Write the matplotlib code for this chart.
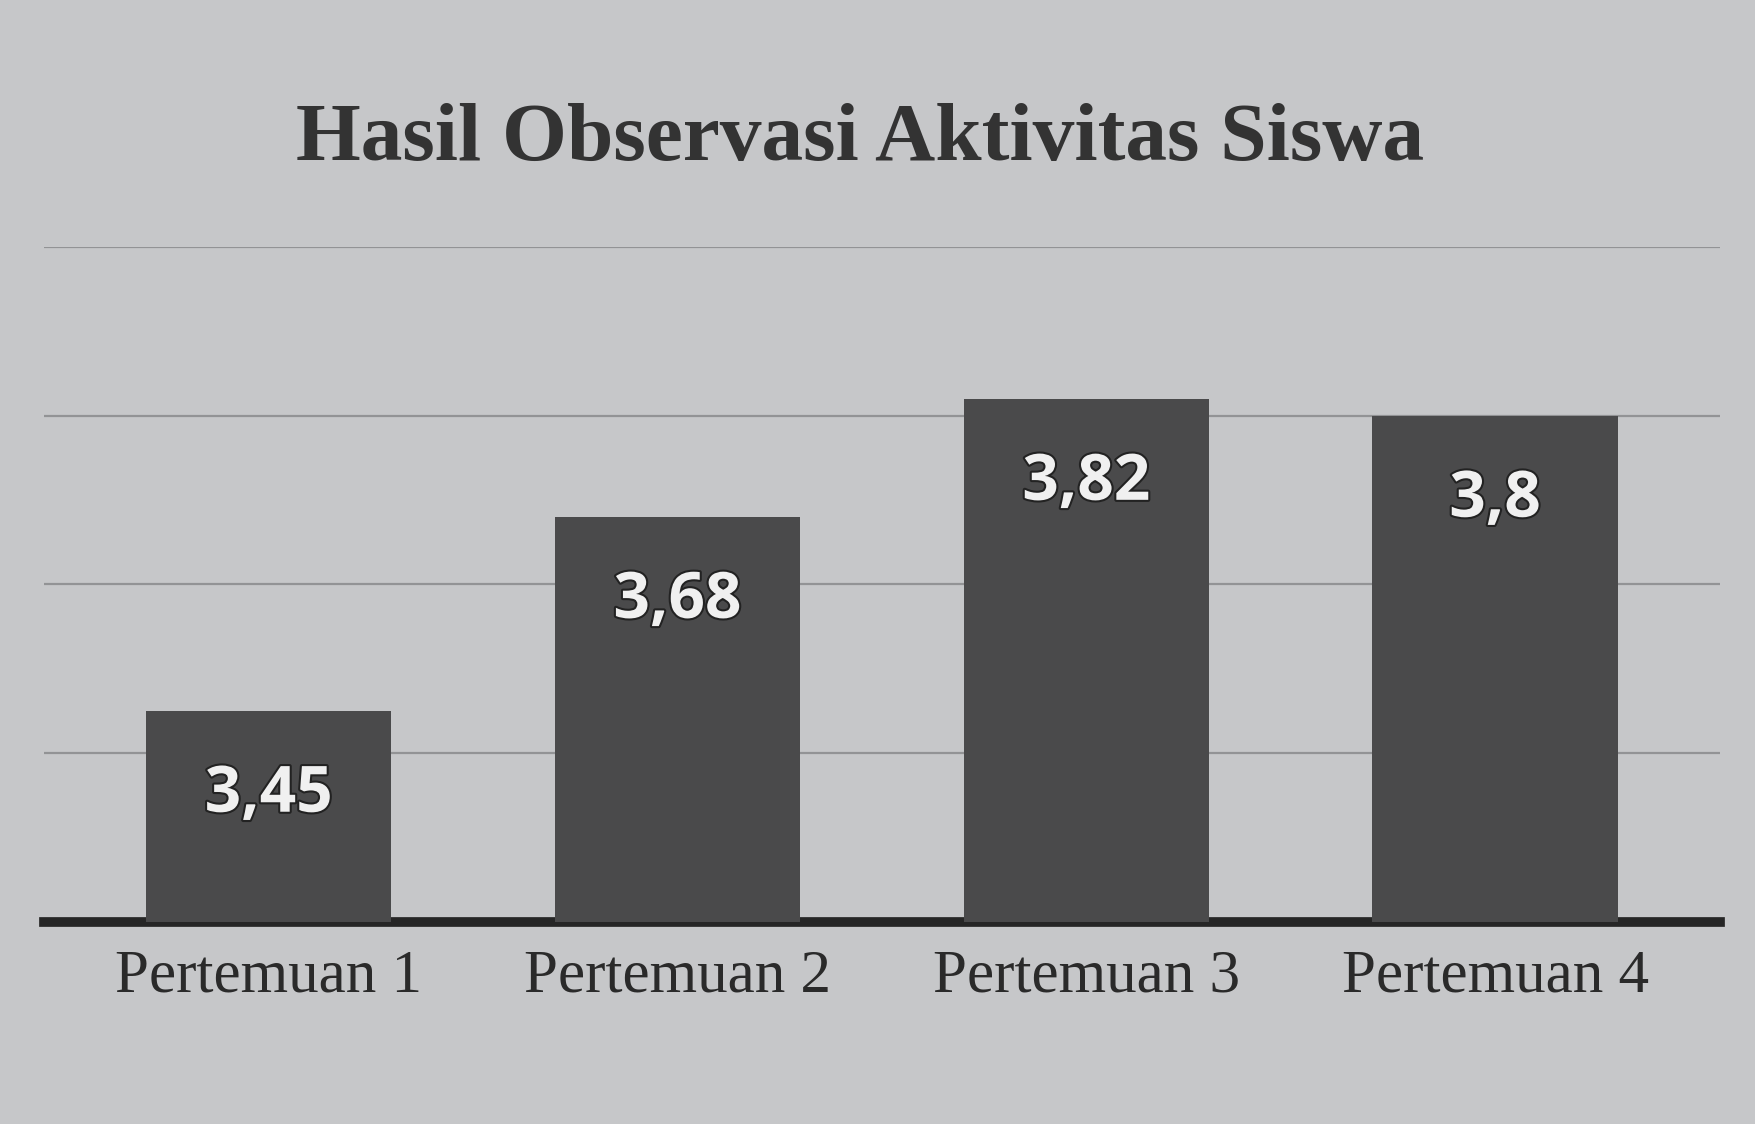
import matplotlib
matplotlib.use("Agg")
import matplotlib.pyplot as plt
import matplotlib.patheffects as pe

categories = ["Pertemuan 1", "Pertemuan 2", "Pertemuan 3", "Pertemuan 4"]
values = [3.45, 3.68, 3.82, 3.8]
value_labels = ["3,45", "3,68", "3,82", "3,8"]
title = "Hasil Observasi Aktivitas Siswa"

bg = "#c6c7c9"
fig = plt.figure(figsize=(17.55, 11.24), dpi=100, facecolor=bg)
ax = fig.add_axes([0.025, 0.18, 0.955, 0.60], facecolor=bg)

x = range(len(categories))
bars = ax.bar(x, values, width=0.6, color="#4a4a4b", zorder=3)
ax.set_ylim(3.2, 4.0)
ax.set_xlim(-0.55, 3.55)
ax.set_yticks([3.4, 3.6, 3.8, 4.0])
ax.yaxis.grid(True, color="#929395", linewidth=1.6)
ax.set_axisbelow(True)
ax.tick_params(axis="y", left=False, labelleft=False)
ax.tick_params(axis="x", bottom=False, pad=16)
ax.set_xticks(list(x))
ax.set_xticklabels(categories, fontsize=44, family="Liberation Serif", color="#2a2a2a")
for s in ["top", "right", "left"]:
    ax.spines[s].set_visible(False)
ax.spines["bottom"].set_linewidth(7)
ax.spines["bottom"].set_color("#262626")

for b, lab in zip(bars, value_labels):
    ax.text(b.get_x() + b.get_width() / 2, b.get_height() - 0.1, lab,
            ha="center", va="center", fontsize=46, fontweight="bold",
            family="Open Sans", color="#f0f0f0", zorder=4,
            path_effects=[pe.withStroke(linewidth=3, foreground="#222222")])

fig.text(0.49, 0.875, title, ha="center", va="center", fontsize=60,
         fontweight="bold", family="Liberation Serif", color="#333333")

fig.savefig("out.png", dpi=100, facecolor=bg)
